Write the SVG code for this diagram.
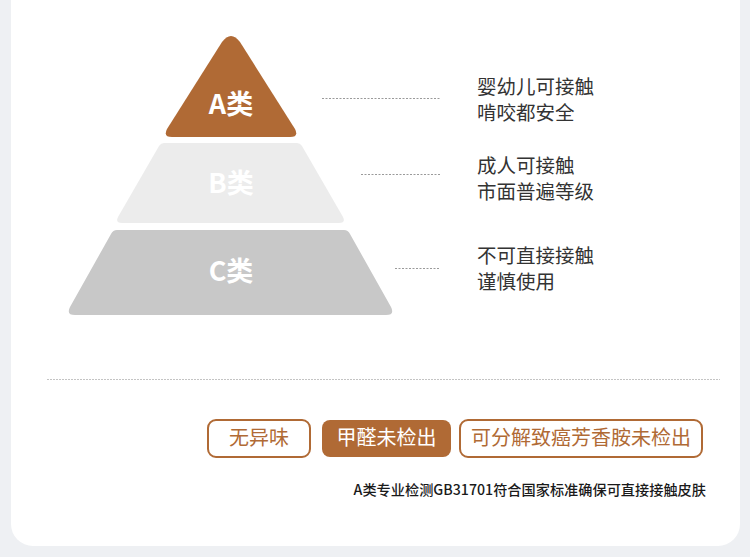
<svg xmlns="http://www.w3.org/2000/svg" width="750" height="557" viewBox="0 0 750 557">
<style>
.cjk{font-family:"Noto Sans CJK SC",sans-serif}
.lvl{font-family:"Noto Sans CJK SC","Noto Sans",sans-serif;font-size:27px;font-weight:700;fill:#fff;text-anchor:middle}
.desc{font-family:"Noto Sans CJK SC",sans-serif;font-size:19.5px;fill:#333}
.dash{stroke:#9a9a9a;stroke-width:1;stroke-dasharray:2 1.5;fill:none}
.tag{fill:#fff;stroke:#b06a35;stroke-width:2}
.tagtxt{font-family:"Noto Sans CJK SC",sans-serif;font-size:20px;fill:#b06a35;text-anchor:middle}
</style>
<rect x="0" y="0" width="750" height="557" fill="#eef0f3"/>
<rect x="11" y="-30" width="729" height="576" rx="22" fill="#fff"/>
<g id="levelA">
<path d="M222 42 Q231 30 240 42 L295 129 Q299 137 290 137 L172 137 Q163 137 167 129 Z" fill="#b06a35"/>
<text class="lvl" x="231" y="114">A类</text>
</g>
<g id="levelB">
<path d="M164 143 L297 143 Q300 143 302 146 L343 217 Q346 223 339 223 L122 223 Q115 223 118 217 L159 146 Q161 143 164 143 Z" fill="#ececec"/>
<text class="lvl" x="231" y="193">B类</text>
</g>
<g id="levelC">
<path d="M117 230 L344 230 Q348 230 350 234 L391 307 Q395 315 386 315 L75 315 Q66 315 70 307 L111 234 Q113 230 117 230 Z" fill="#c8c8c8"/>
<text class="lvl" x="231" y="281">C类</text>
</g>
<g id="connectors">
<line class="dash" x1="322" y1="98.5" x2="440" y2="98.5"/>
<line class="dash" x1="361" y1="174.5" x2="440" y2="174.5"/>
<line class="dash" x1="395" y1="268.5" x2="440" y2="268.5"/>
<line x1="47" y1="379.5" x2="720" y2="379.5" stroke="#c4c4c4" stroke-width="1" stroke-dasharray="2 1"/>
</g>
<g id="descA">
<text class="desc"><tspan x="477" y="94">婴幼儿可接触</tspan><tspan x="477" y="120">啃咬都安全</tspan></text>
</g>
<g id="descB">
<text class="desc"><tspan x="477" y="173">成人可接触</tspan><tspan x="477" y="199">市面普遍等级</tspan></text>
</g>
<g id="descC">
<text class="desc"><tspan x="477" y="263">不可直接接触</tspan><tspan x="477" y="289">谨慎使用</tspan></text>
</g>
<g id="tag1">
<rect class="tag" x="208" y="420" width="102" height="37" rx="8"/>
<text class="tagtxt" x="259" y="445">无异味</text>
</g>
<g id="tag2">
<rect x="322" y="420" width="129" height="37" rx="8" fill="#b06a35"/>
<text class="tagtxt" x="386.5" y="445" style="fill:#fff">甲醛未检出</text>
</g>
<g id="tag3">
<rect class="tag" x="460" y="420" width="242" height="37" rx="8"/>
<text class="tagtxt" x="581" y="445">可分解致癌芳香胺未检出</text>
</g>
<g id="note">
<text class="cjk" x="706" y="495" font-size="14.2" font-weight="500" fill="#1a1a1a" text-anchor="end">A类专业检测GB31701符合国家标准确保可直接接触皮肤</text>
</g>
</svg>
